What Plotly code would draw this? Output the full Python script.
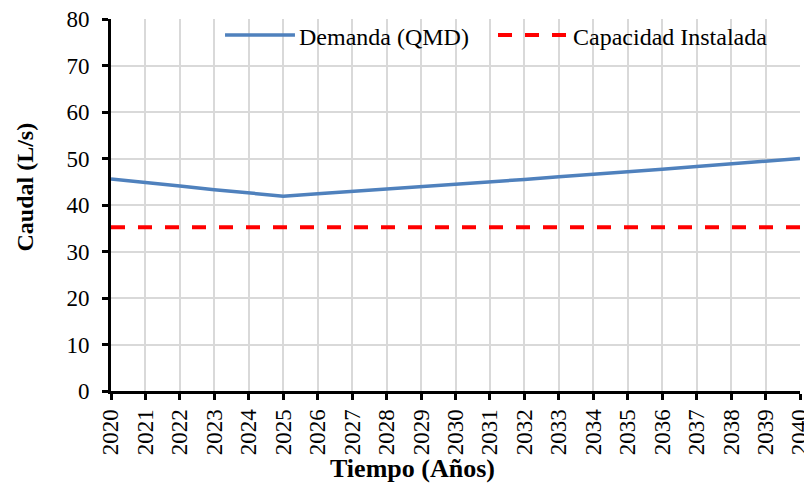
import plotly.graph_objects as go

years = list(range(2020, 2041))
demanda = [45.6, 44.9, 44.1, 43.3, 42.6, 41.9, 42.4, 42.9, 43.4, 43.9, 44.5,
           45.0, 45.5, 46.1, 46.6, 47.2, 47.7, 48.3, 48.9, 49.4, 50.0]
capacidad = [35.2] * len(years)
name_dem = "Demanda (QMD)"
name_cap = "Capacidad Instalada"
x_title = "Tiempo (Años)"
y_title = "Caudal (L/s)"

FONT = "Liberation Serif, Times New Roman, serif"
BLUE = "#4f81bd"
RED = "#ff0000"

fig = go.Figure()
fig.add_trace(go.Scatter(x=years, y=demanda, mode="lines", name=name_dem,
                         line=dict(color=BLUE, width=3.5), showlegend=False))
fig.add_trace(go.Scatter(x=years, y=capacidad, mode="lines", name=name_cap,
                         line=dict(color=RED, width=4, dash="14px,13px"), showlegend=False))

# manual legend (samples + labels) in paper coordinates
fig.add_shape(type="line", xref="paper", yref="paper", x0=0.1655, x1=0.267, y0=0.957, y1=0.957,
              line=dict(color=BLUE, width=3.5))
fig.add_shape(type="line", xref="paper", yref="paper", x0=0.5617, x1=0.6618, y0=0.957, y1=0.957,
              line=dict(color=RED, width=4, dash="14px,13px"))
fig.add_annotation(xref="paper", yref="paper", x=0.270, y=0.952, xanchor="left", yanchor="middle",
                   text=name_dem, showarrow=False, font=dict(family=FONT, size=24, color="#000"))
fig.add_annotation(xref="paper", yref="paper", x=0.668, y=0.952, xanchor="left", yanchor="middle",
                   text=name_cap, showarrow=False, font=dict(family=FONT, size=24, color="#000"))

# axis titles (placed like the reference, off-centre)
fig.add_annotation(xref="paper", yref="paper", x=0.438, y=-0.207, xanchor="center", yanchor="middle",
                   text="<b>" + x_title + "</b>", showarrow=False,
                   font=dict(family=FONT, size=26, color="#000"))
fig.add_annotation(xref="paper", yref="paper", x=-0.1248, y=0.547, xanchor="center", yanchor="middle",
                   text="<b>" + y_title + "</b>", showarrow=False, textangle=-90,
                   font=dict(family=FONT, size=24, color="#000"))

# page body has an 8px margin, so the figure is sized/offset to compensate
fig.update_layout(
    width=804, height=477,
    margin=dict(l=103, r=12, t=11, b=94),
    paper_bgcolor="white", plot_bgcolor="white",
    font=dict(family=FONT, color="#000"),
    showlegend=False,
)
fig.update_xaxes(
    range=[2020, 2040], tickmode="array", tickvals=years, ticktext=[str(y) for y in years],
    tickangle=-90, tickfont=dict(family=FONT, size=23, color="#000"),
    ticklabeloverflow="allow",
    showgrid=True, gridcolor="#d9d9d9", gridwidth=2,
    showline=True, linecolor="black", linewidth=3,
    ticks="outside", ticklen=6, tickwidth=3, tickcolor="black",
    zeroline=False, automargin=False,
)
fig.update_yaxes(
    range=[0, 80], tickmode="array", tickvals=list(range(0, 81, 10)),
    tickfont=dict(family=FONT, size=23, color="#000"), ticklabelstandoff=8,
    ticklabeloverflow="allow",
    showgrid=True, gridcolor="#d9d9d9", gridwidth=2,
    showline=True, linecolor="black", linewidth=3,
    ticks="outside", ticklen=6, tickwidth=3, tickcolor="black",
    zeroline=False, automargin=False,
)

fig.write_html("out.html")
